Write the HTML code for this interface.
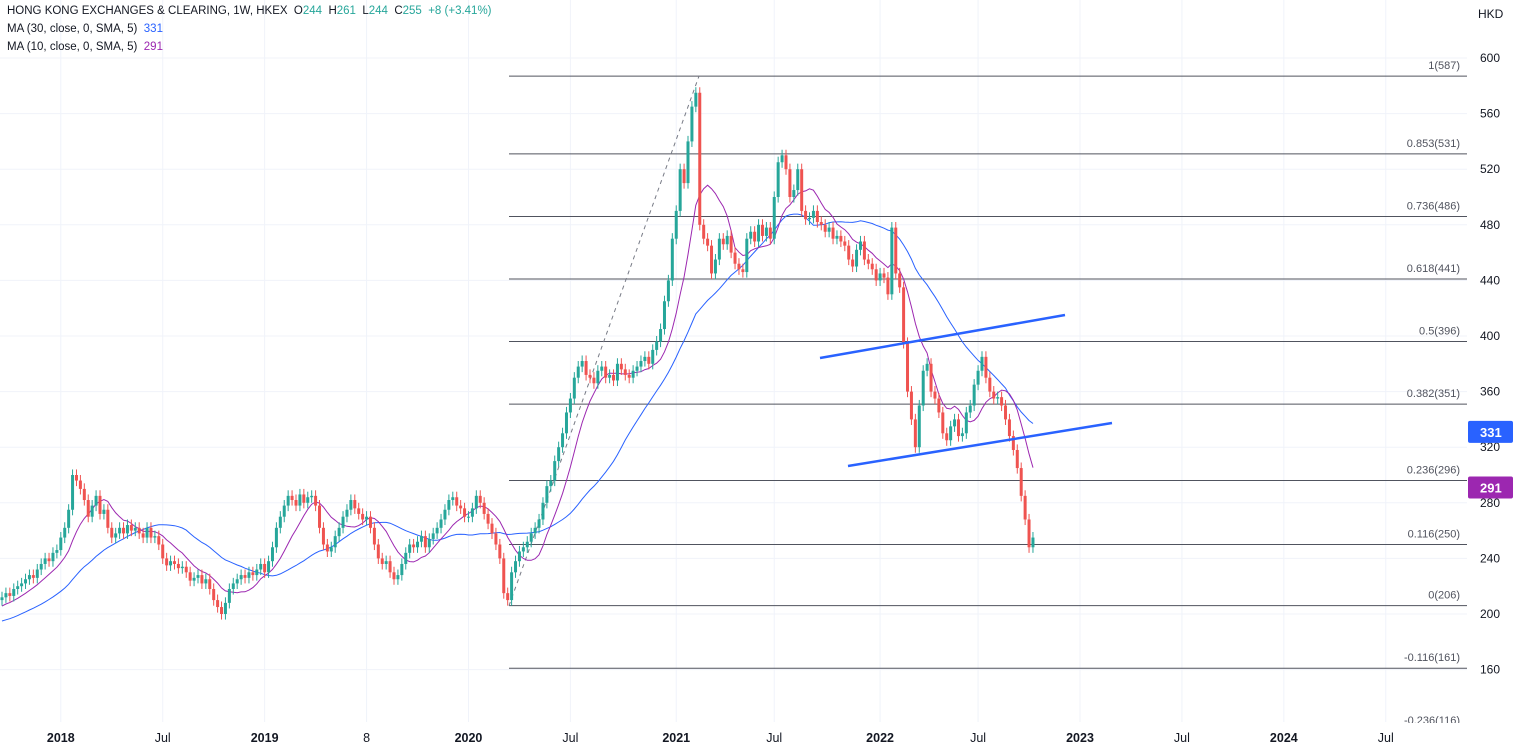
<!DOCTYPE html>
<html><head><meta charset="utf-8">
<style>
body{margin:0;background:#fff;font-family:"Liberation Sans",sans-serif;}
#wrap{position:relative;width:1527px;height:754px;overflow:hidden;}
svg text{font-family:"Liberation Sans",sans-serif;}
.hdr{position:absolute;left:7px;font-size:11.5px;color:#131722;}
</style></head>
<body>
<div id="wrap">
<svg id="chart" width="1527" height="754"></svg>
<div class="hdr" style="top:5px">HONG KONG EXCHANGES &amp; CLEARING, 1W, HKEX&nbsp; O<span style="color:#26a69a">244</span>&nbsp; H<span style="color:#26a69a">261</span>&nbsp; L<span style="color:#26a69a">244</span>&nbsp; C<span style="color:#26a69a">255</span>&nbsp; <span style="color:#26a69a">+8 (+3.41%)</span></div>
<div class="hdr" style="top:23px">MA (30, close, 0, SMA, 5)&nbsp; <span style="color:#2962ff">331</span></div>
<div class="hdr" style="top:41px">MA (10, close, 0, SMA, 5)&nbsp; <span style="color:#9c27b0">291</span></div>
</div>
<script>
const priorCloses = [188,190,186,184,182,185,188,186,190,192,190,188,186,189,192,194,192,195,198,196,200,203,202,205,204,207,208,206,210];
const closes = [
212,215,213,218,220,222,225,228,226,232,236,240,238,244,246,
255,262,275,300,296,290,282,270,278,285,272,275,262,
255,258,262,258,264,260,262,258,255,262,255,256,250,
240,235,238,236,233,234,230,224,226,228,222,225,218,
210,205,200,208,218,222,225,228,226,230,228,232,236,
230,238,248,262,270,278,285,282,278,286,280,284,285,
278,262,250,245,248,256,262,270,275,282,276,272,268,
270,262,250,240,236,238,230,225,228,236,244,250,248,
252,256,248,254,258,262,268,275,282,284,278,276,270,
270,276,285,280,272,265,258,250,240,215,210,230,238,
245,248,252,258,262,268,280,292,296,310,320,330,345,
355,370,378,382,372,370,366,375,378,370,372,368,380,
376,372,370,375,378,382,385,380,390,396,405,425,440,
470,490,520,510,540,565,575,480,470,465,445,455,470,
466,472,460,452,448,446,470,475,468,480,472,478,470,
500,525,530,520,500,505,520,490,484,485,490,482,480,
475,478,470,472,468,465,455,450,462,468,455,452,448,
440,445,442,430,478,445,435,395,360,340,320,350,375,
380,360,355,345,330,325,335,340,328,330,345,350,365,
375,385,370,360,355,356,350,340,328,318,305,285,268,248,255];
const firstOpen = 210;
const wickUp = 4, wickDown = 4;
const fibLevels = ["1","0.853","0.736","0.618","0.5","0.382","0.236","0.116","0","-0.116","-0.236"];
const fibPrices = [587,531,486,441,396,351,296,250,206,161,116];
const priceTicks = [600,560,520,480,440,400,360,320,280,240,200,160];
const timeLabels = ["2018","Jul","2019","8","2020","Jul","2021","Jul","2022","Jul","2023","Jul","2024","Jul"];
const timeWeeks = [15,41,67,93,119,145,172,197,224,249,275,301,327,353];
const timeBold = [1,0,1,0,1,0,1,0,1,0,1,0,1,0];

const NS="http://www.w3.org/2000/svg";
const svg=document.getElementById('chart');
function y(v){return 614-(v-200)*1.39;}
function x(i){return 2+i*3.92;}
function mk(tag,attrs,parent){const e=document.createElementNS(NS,tag);for(const k in attrs)e.setAttribute(k,attrs[k]);(parent||svg).appendChild(e);return e;}

priceTicks.forEach(p=>{const g=mk('line',{x1:0,x2:1467,y1:y(p),y2:y(p),stroke:'#f0f3fa','stroke-width':1});

});
timeWeeks.forEach(w=>{const g=mk('line',{x1:x(w),x2:x(w),y1:0,y2:722,stroke:'#f0f3fa','stroke-width':1});

});

const fibX1=509, fibX2=1467;
fibLevels.forEach((lv,k)=>{
  const yy=y(fibPrices[k]);
  const l=mk('line',{x1:fibX1,x2:fibX2,y1:yy,y2:yy,stroke:'#50535e','stroke-width':1});
  
  
  const t=mk('text',{x:1460,y:yy-7,'text-anchor':'end','font-size':11,fill:'#50535e'});
  t.textContent=lv+'('+fibPrices[k]+')';
  
  
});
const dl=mk('line',{x1:509,y1:y(206),x2:699,y2:y(587),stroke:'#787b86','stroke-width':1,'stroke-dasharray':'4,4'});



const all=priorCloses.concat(closes), off=priorCloses.length;
function sma(n){const out=[];for(let i=0;i<closes.length;i++){const e=i+off;const s=Math.max(0,e-n+1);let t=0;for(let j=s;j<=e;j++)t+=all[j];out.push(t/(e-s+1));}return out;}
function pathOf(a){return a.map((v,i)=>(i?'L':'M')+x(i).toFixed(1)+','+y(v).toFixed(1)).join('');}
const ma30=mk('path',{d:pathOf(sma(30)),fill:'none',stroke:'#2962ff','stroke-width':1});


const ma10=mk('path',{d:pathOf(sma(10)),fill:'none',stroke:'#9c27b0','stroke-width':1});



closes.forEach((c,i)=>{
  const o=i?closes[i-1]:firstOpen;
  const up=c>=o, col=up?'#26a69a':'#ef5350';
  const hi=Math.max(o,c)+wickUp, lo=Math.min(o,c)-wickDown;
  const g=mk('g',{});
  
  
  const cx=x(i);
  mk('line',{x1:cx,x2:cx,y1:y(hi),y2:y(lo),stroke:col,'stroke-width':1},g);
  const top=y(Math.max(o,c)), h=Math.max(1,y(Math.min(o,c))-top);
  mk('rect',{x:cx-1.5,y:top,width:3,height:h,fill:col},g);
});

const t1=mk('line',{x1:820,y1:358,x2:1065,y2:315,stroke:'#2962ff','stroke-width':2.5});


const t2=mk('line',{x1:848,y1:466,x2:1112,y2:423,stroke:'#2962ff','stroke-width':2.5});



const pa=mk('rect',{x:1468,y:0,width:59,height:754,fill:'#fff'});


const ta=mk('rect',{x:0,y:723,width:1527,height:31,fill:'#fff'});


const hk=mk('text',{x:1478,y:18,'font-size':12,fill:'#131722'});hk.textContent='HKD';


priceTicks.forEach(p=>{const t=mk('text',{x:1480,y:y(p)+4,'font-size':12,fill:'#131722'});t.textContent=p;

});
timeLabels.forEach((s,k)=>{const t=mk('text',{x:x(timeWeeks[k]),y:742,'text-anchor':'middle','font-size':12.5,fill:'#131722','font-weight':timeBold[k]?'bold':'normal'});t.textContent=s;

});
function tag(v,col,name){const yy=y(v);const g=mk('g',{});


mk('rect',{x:1468,y:yy-11,width:45,height:22,fill:col,rx:2},g);
const t=mk('text',{x:1480,y:yy+5,'font-size':13,fill:'#fff','font-weight':'bold'},g);t.textContent=v;}
tag(331,'#2962ff','ma30-price-tag');
tag(291,'#9c27b0','ma10-price-tag');
</script>
</body></html>
